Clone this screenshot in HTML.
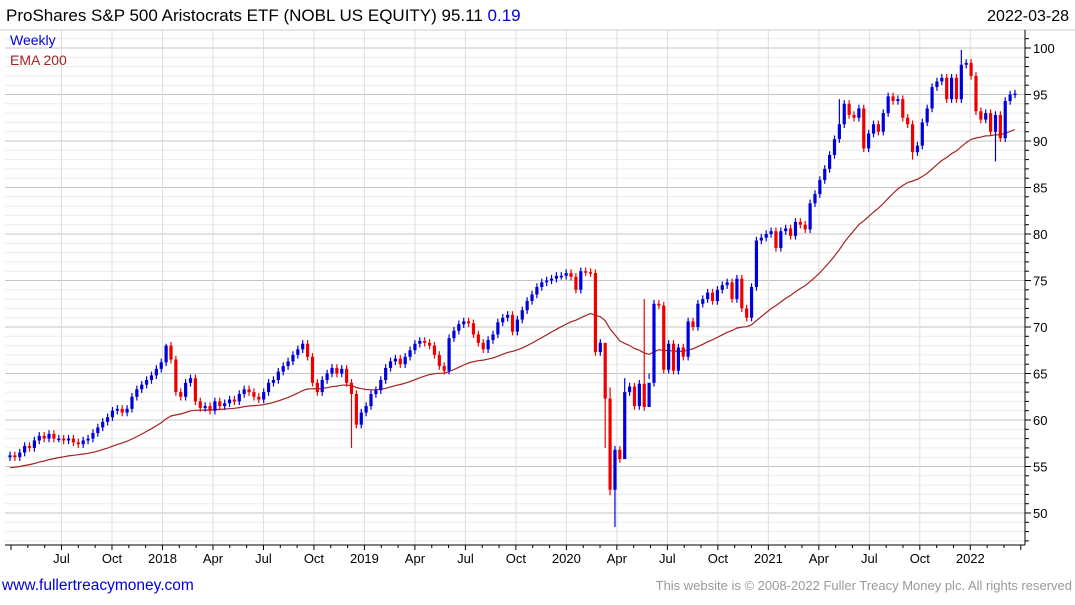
<!DOCTYPE html>
<html><head><meta charset="utf-8"><style>
body{margin:0;background:#fff;width:1075px;height:600px;overflow:hidden;font-family:"Liberation Sans",sans-serif}
svg text{font-family:"Liberation Sans",sans-serif}
</style></head><body>
<svg id="chart" width="1075" height="600" xmlns="http://www.w3.org/2000/svg">
<text x="6" y="21" font-size="17" fill="#000">ProShares S&amp;P 500 Aristocrats ETF (NOBL US EQUITY) 95.11 <tspan fill="#0000dd">0.19</tspan></text>
<text x="1069" y="21" font-size="16" text-anchor="end" fill="#000">2022-03-28</text>
<g id="grid"></g>
<g id="xaxis"></g>
<g id="yaxis"></g>
<path id="ema" fill="none" stroke="#a52222" stroke-width="1.2"/>
<g id="candles"></g>
<text x="10" y="45" font-size="14" fill="#0000dd">Weekly</text>
<text x="10" y="65" font-size="14" fill="#a52222">EMA 200</text>
<text x="2" y="590" font-size="15.5" fill="#0000dd">www.fullertreacymoney.com</text>
<text x="1072" y="590" font-size="13" text-anchor="end" fill="#999">This website is © 2008-2022 Fuller Treacy Money plc. All rights reserved</text>
</svg>
<script>
const closes=[56.2,56.0,56.5,57.2,57.0,57.8,58.3,58.0,58.5,58.0,
58.0,57.8,58.0,57.6,57.4,57.8,58.0,58.6,59.2,59.8,
60.3,61.0,61.2,60.8,61.2,62.5,63.3,63.8,64.3,64.8,
65.5,66.2,68.0,66.5,63.0,62.5,64.0,64.5,62.0,61.3,
61.5,61.0,62.0,61.5,61.8,62.2,62.0,62.8,63.3,63.0,62.5,
62.2,63.0,64.0,64.3,65.2,65.8,66.3,67.0,67.6,68.2,
66.8,64.0,63.0,64.3,65.0,65.6,65.0,65.5,64.0,62.8,59.5,
60.8,61.5,62.8,63.2,64.3,65.6,66.3,66.6,66.0,66.8,
67.5,68.2,68.5,68.3,68.0,67.0,65.8,65.3,68.8,69.6,
70.3,70.6,70.4,69.2,68.3,67.6,68.6,69.2,70.5,71.0,
71.3,69.5,70.8,71.8,72.8,73.5,74.3,74.8,75.0,75.2,75.5,
75.5,75.8,75.4,74.0,76.0,75.9,75.8,67.3,68.3,62.3,
52.5,56.8,55.8,63.0,63.6,61.5,63.9,61.4,64.0,72.5,
72.3,65.4,68.2,65.3,67.8,66.8,70.6,70.0,72.5,73.0,
73.7,72.8,74.0,74.5,74.8,73.0,75.2,72.0,71.0,
74.3,79.3,79.6,80.0,80.3,78.5,80.3,80.6,79.8,
81.3,81.0,80.5,83.3,84.3,85.8,87.0,88.5,90.2,91.8,
94.0,92.8,92.5,93.5,89.2,90.8,91.8,91.0,93.0,
94.8,94.3,94.5,92.5,91.8,88.8,89.5,92.0,93.5,95.8,
96.4,96.8,94.5,96.8,94.5,98.2,98.4,97.0,93.2,
92.3,93.0,91.0,92.8,90.3,94.3,95.0,95.1];
const firstOpen=56.0;
const wickHigh=[[32,68.2],[122,67.2],[123,63.5],[126,64.5],[130,73.0],[195,99.8],[170,94.5]];
const wickLow=[[70,57.0],[122,57.0],[123,51.9],[124,48.5],[126,56.0],[185,88.0],[202,87.8],[131,65.0]];
const yTicks=[50,55,60,65,70,75,80,85,90,95,100];
const xLabels=["Jul","Oct","2018","Apr","Jul","Oct","2019","Apr","Jul","Oct","2020","Apr","Jul","Oct","2021","Apr","Jul","Oct","2022"];
const xLabelMonths=[3,6,9,12,15,18,21,24,27,30,33,36,39,42,45,48,51,54,57];

const NS="http://www.w3.org/2000/svg";
const L=5,R=1025,T=30,B=545;
const y=v=>48+(100-v)*9.3;
const n=closes.length;
const x=i=>10+i*(1005/(n-1));
const mx=m=>11+m*16.83;
function el(t,a,p){const e=document.createElementNS(NS,t);for(const k in a)e.setAttribute(k,a[k]);p.appendChild(e);return e;}
const grid=document.getElementById('grid'),xa=document.getElementById('xaxis'),ya=document.getElementById('yaxis'),cg=document.getElementById('candles');
for(let v=46;v<=102;v++){const yy=y(v);if(yy<T||yy>B)continue;
 const ln=el('line',{x1:L,x2:R,y1:yy,y2:yy,stroke:v%5==0?'#c4c4c4':'#ececec','stroke-width':1},grid);
 
 
 const tk=el('line',{x1:R,x2:R+(v%5==0?6:4),y1:yy,y2:yy,stroke:'#000'},ya);
 
 }
yTicks.forEach(v=>{const t=el('text',{x:R+8,y:y(v)+5,'font-size':13,fill:'#000'},ya);t.textContent=v;
 
 });
xLabels.forEach((s,k)=>{const xx=mx(xLabelMonths[k]);
 const g=el('line',{x1:xx,x2:xx,y1:T,y2:B,stroke:'#dedede'},grid);
 
 
 const t=el('text',{x:xx,y:563,'font-size':13,'text-anchor':'middle',fill:'#000'},xa);t.textContent=s;
 
 });
for(let m=0;m<=60;m++){const xx=mx(m);if(xx>R)break;
 const tk=el('line',{x1:xx,x2:xx,y1:B,y2:B+(m%3==0?5:3),stroke:'#000'},xa);
 
 }
const ax1=el('line',{x1:R,x2:R,y1:T,y2:B,stroke:'#000'},ya);


const ax2=el('line',{x1:L,x2:R,y1:B,y2:B,stroke:'#000'},xa);


const ax3=el('line',{x1:0,x2:1075,y1:T,y2:T,stroke:'#ccc'},xa);


const hiMap={},loMap={};wickHigh.forEach(p=>hiMap[p[0]]=p[1]);wickLow.forEach(p=>loMap[p[0]]=p[1]);
for(let i=0;i<n;i++){
 const o=i?closes[i-1]:firstOpen,c=closes[i];
 const col=c>=o?'#0000dd':'#ee0000';
 const top=Math.max(o,c),bot=Math.min(o,c);
 const hi=hiMap[i]!==undefined?hiMap[i]:top+0.4,lo=loMap[i]!==undefined?loMap[i]:bot-0.4;
 const xx=x(i);
 const w=el('line',{x1:xx,x2:xx,y1:y(hi),y2:y(lo),stroke:col,'stroke-width':1.2},cg);
 
 
 const r=el('rect',{x:xx-1.6,y:y(top),width:3.2,height:Math.max(1.5,y(bot)-y(top)),fill:col},cg);
 
 
}
let e=54.8,d='';const a=2/41;
for(let i=0;i<n;i++){e=e+a*(closes[i]-e);d+=(i?'L':'M')+x(i).toFixed(1)+','+y(e).toFixed(1);}
document.getElementById('ema').setAttribute('d',d);
</script>
</body></html>
